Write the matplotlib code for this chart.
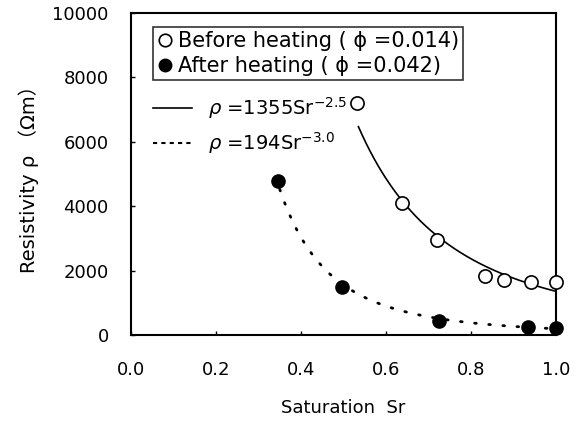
import matplotlib
matplotlib.use('Agg')
import matplotlib.pyplot as plt
import numpy as np
from matplotlib.lines import Line2D

plt.rcParams['font.family'] = ['DejaVu Sans', 'Noto Sans CJK JP']

# measured points
sr_before = [0.532, 0.638, 0.72, 0.833, 0.878, 0.941, 1.0]
rho_before = [7200, 4100, 2950, 1830, 1700, 1650, 1650]
sr_after = [0.346, 0.497, 0.725, 0.934, 1.0]
rho_after = [4780, 1490, 435, 250, 220]

# fitted curves rho = a * Sr^b
fit_before = (1355, -2.5)
fit_after = (194, -3.0)

fig = plt.figure(figsize=(5.79, 4.21), dpi=100)
ax = fig.add_axes([0.2263, 0.2043, 0.734, 0.7647])

s1 = np.linspace(0.535, 1.0, 200)
s2 = np.linspace(0.35, 1.0, 200)
ax.plot(s1, fit_before[0] * s1 ** fit_before[1], color='black', lw=1.2)
ax.plot(s2, fit_after[0] * s2 ** fit_after[1], color='black', lw=2.0,
        linestyle=(0, (0.6, 4.5)), dash_capstyle='round')

ax.plot(sr_before, rho_before, 'o', ms=9.5, mfc='white', mec='black', mew=1.2,
        clip_on=False, zorder=5)
ax.plot(sr_after, rho_after, 'o', ms=9.5, mfc='black', mec='black',
        clip_on=False, zorder=5)

ax.set_xlim(0, 1.0)
ax.set_ylim(0, 10000)
ax.set_xticks([0.0, 0.2, 0.4, 0.6, 0.8, 1.0])
ax.set_xticklabels(['0.0', '0.2', '0.4', '0.6', '0.8', '1.0'])
ax.set_yticks([0, 2000, 4000, 6000, 8000, 10000])
ax.tick_params(direction='in', length=3, width=1, labelsize=13)
ax.tick_params(axis='x', pad=19)
ax.tick_params(axis='y', pad=16)
for sp in ax.spines.values():
    sp.set_linewidth(1.5)

ax.set_xlabel('Saturation  Sr', fontsize=13, labelpad=14)
ax.set_ylabel('Resistivity ρ （Ωm）', fontsize=14, labelpad=10)

h1 = [Line2D([], [], marker='o', ls='none', ms=9, mfc='white', mec='black', mew=1.2),
      Line2D([], [], marker='o', ls='none', ms=9, mfc='black', mec='black')]
leg1 = ax.legend(h1, ['Before heating ( ϕ =0.014)', 'After heating ( ϕ =0.042)'],
                 loc='upper left', bbox_to_anchor=(0.052, 0.957), fontsize=15,
                 frameon=True, fancybox=False, edgecolor='black',
                 handlelength=0.7, handletextpad=0.3, borderpad=0.2,
                 labelspacing=0.25, borderaxespad=0)
leg1.get_frame().set_linewidth(1.2)
ax.add_artist(leg1)

h2 = [Line2D([], [], color='black', lw=1.2),
      Line2D([], [], color='black', lw=1.5, linestyle=(0, (2, 2)))]
ax.legend(h2, ['$\\rho$ =1355Sr$^{-2.5}$', '$\\rho$ =194Sr$^{-3.0}$'],
          loc='upper left', bbox_to_anchor=(0.052, 0.745), fontsize=14,
          frameon=False, handlelength=2.0, handletextpad=0.8, borderpad=0,
          labelspacing=0.45, borderaxespad=0)

fig.savefig('out.png', dpi=100)
